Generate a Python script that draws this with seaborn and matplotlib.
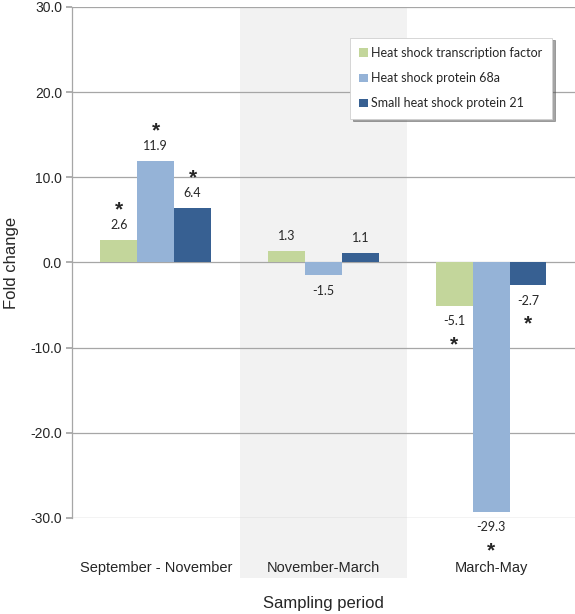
import matplotlib
matplotlib.use('Agg')
import matplotlib.pyplot as plt
import pandas as pd
import seaborn as sns

# data
periods = ['September - November', 'November-March', 'March-May']
genes = ['Heat shock transcription factor', 'Heat shock protein 68a', 'Small heat shock protein 21']
hsf = [2.6, 1.3, -5.1]
hsp68a = [11.9, -1.5, -29.3]
shsp21 = [6.4, 1.1, -2.7]
signif_hsf = [True, False, True]
signif_hsp68a = [True, False, True]
signif_shsp21 = [True, False, True]

colors = ['#C3D69B', '#95B3D7', '#376092']

rows = []
for g, vals, sig in zip(genes, [hsf, hsp68a, shsp21], [signif_hsf, signif_hsp68a, signif_shsp21]):
    for p, v, s in zip(periods, vals, sig):
        rows.append([p, g, v, s])
df = pd.DataFrame(rows, columns=['Period', 'Gene', 'Fold', 'Sig'])

sns.set_theme(style='white')
plt.rcParams['font.family'] = ['Liberation Sans', 'DejaVu Sans']

fig = plt.figure(figsize=(5.75, 6.14), dpi=100)
ax = fig.add_axes([0.125, 0.1564, 0.875, 0.8322])

# shaded middle period, runs down behind the tick label
ax.axvspan(0.5, 1.5, ymin=-0.117, ymax=1, color='#F2F2F2', zorder=0, clip_on=False, lw=0)

sns.barplot(data=df, x='Period', y='Fold', hue='Gene', order=periods, hue_order=genes,
            palette=colors, width=0.66, gap=0, saturation=1, ax=ax, zorder=3,
            errorbar=None, legend=True, linewidth=0, edgecolor='none')

ax.set_ylim(-30, 30)
ax.set_xlim(-0.5, 2.5)
ax.set_yticks(range(-30, 31, 10))
ax.set_yticklabels([f'{t:.1f}' for t in range(-30, 31, 10)])
ax.yaxis.grid(True, color='#A6A6A6', lw=0.9, zorder=1)
ax.set_axisbelow(True)
for s in ['top', 'right', 'bottom']:
    ax.spines[s].set_visible(False)
ax.spines['left'].set_color('#A6A6A6')
ax.spines['left'].set_linewidth(0.9)
ax.tick_params(axis='y', left=True, length=4, color='#A6A6A6', labelsize=10, pad=3)
ax.tick_params(axis='x', bottom=False, labelsize=10.5, pad=25)
for t in ax.get_xticklabels() + ax.get_yticklabels():
    t.set_family(['Liberation Sans', 'DejaVu Sans'])
ax.set_ylabel('Fold change', fontsize=12, labelpad=8)
ax.set_xlabel('Sampling period', fontsize=12, labelpad=15)

# value labels and significance stars
lab_font = ['Lato', 'DejaVu Sans']
for bars, gene in zip(ax.containers, genes):
    sub = df[df['Gene'] == gene].set_index('Period').loc[periods]
    for bar, v, s in zip(bars, sub['Fold'], sub['Sig']):
        x = bar.get_x() + bar.get_width() / 2
        sign = 1 if v >= 0 else -1
        ax.annotate(f'{v:.1f}', (x, v), xytext=(0, 11 * sign), textcoords='offset points',
                    ha='center', va='center', fontsize=9, family=lab_font, annotation_clip=False)
        if s:
            ax.annotate('*', (x, v), xytext=(0, 25 * sign - 3), textcoords='offset points',
                        ha='center', va='center', fontsize=15, fontweight='bold',
                        annotation_clip=False)

leg = ax.legend(loc='upper left', bbox_to_anchor=(0.553, 0.94), borderaxespad=0,
                frameon=True, shadow=True, fancybox=False,
                handlelength=0.65, handleheight=0.65, handletextpad=0.3,
                labelspacing=1.05, borderpad=0.75, prop={'family': lab_font, 'size': 9})
leg.get_frame().set_edgecolor('#D0D0D0')
leg.get_frame().set_linewidth(0.6)

fig.savefig('out.png', dpi=100)
